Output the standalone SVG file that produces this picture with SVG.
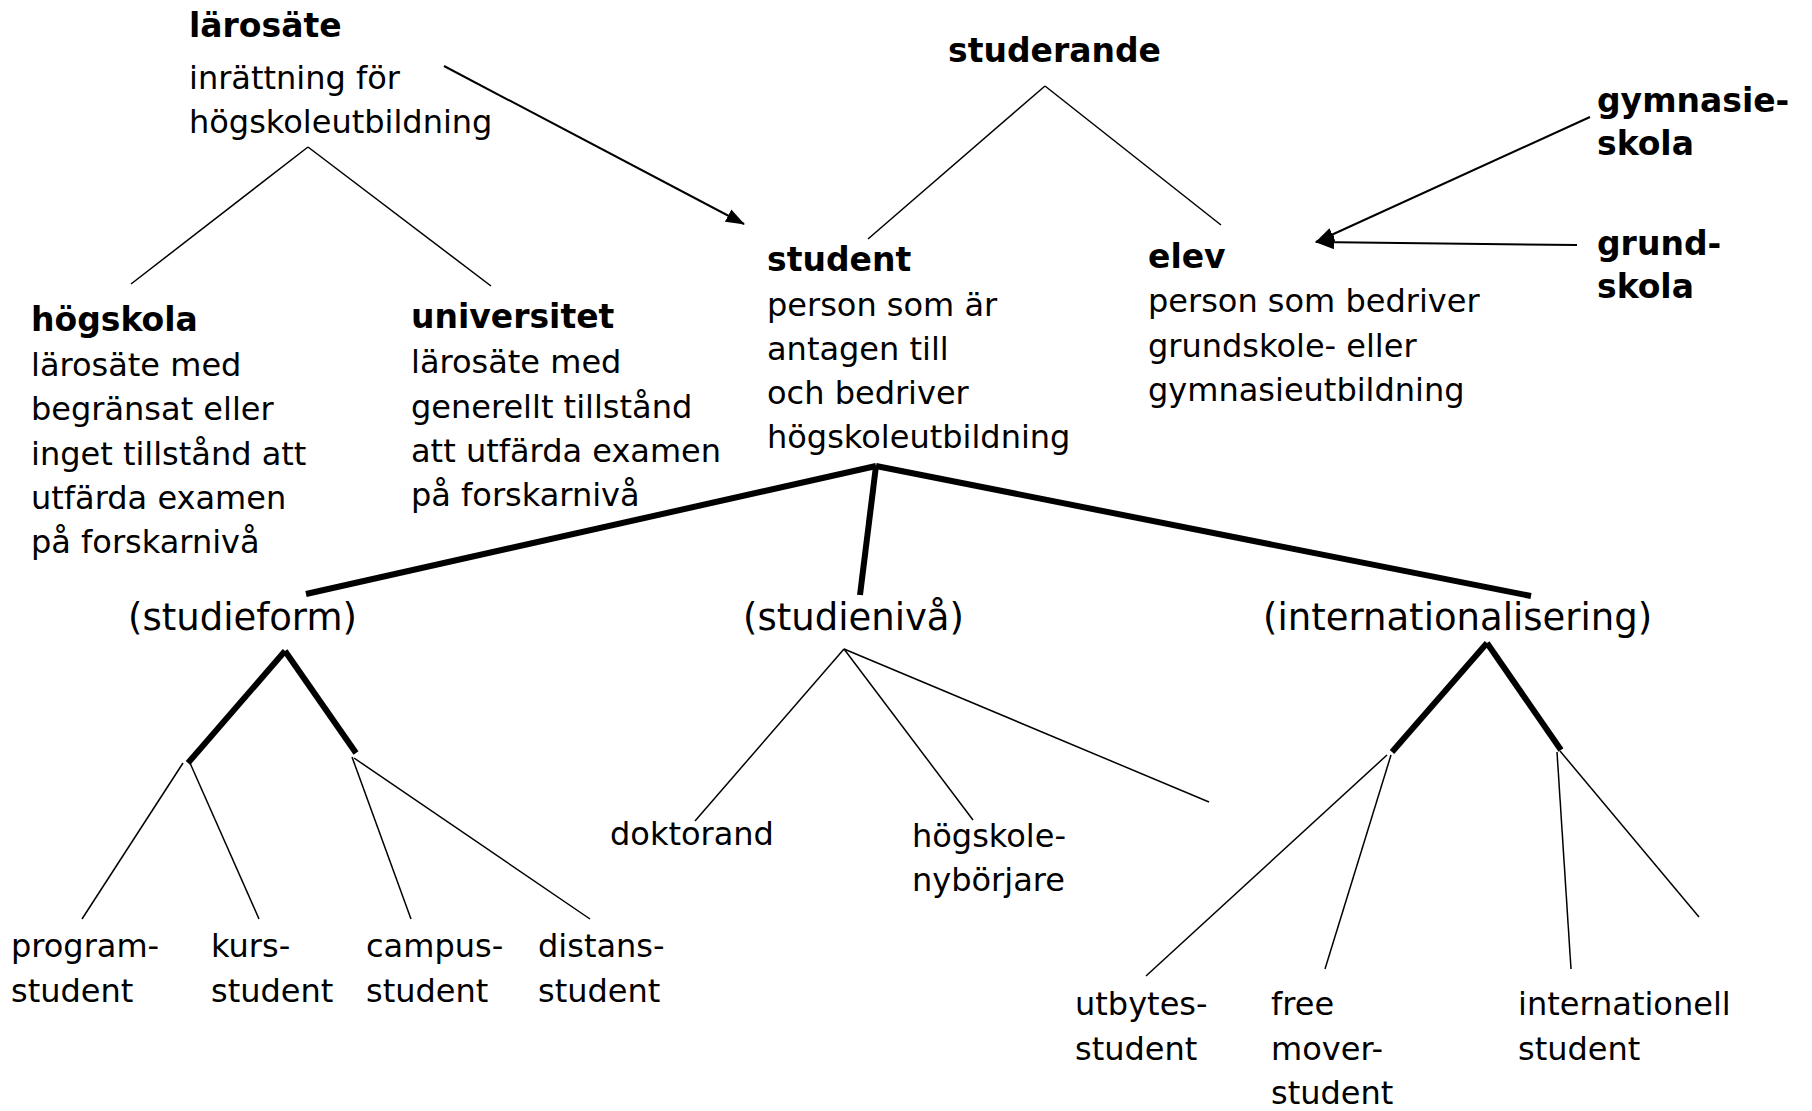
<svg xmlns="http://www.w3.org/2000/svg" width="1812" height="1111" viewBox="0 0 1812 1111">
<style>
text{font-family:"DejaVu Sans","Liberation Sans",sans-serif;font-size:32px;fill:#000}
.b{font-weight:bold;font-size:33px}
.p{font-size:37px}
.thin{stroke:#000;stroke-width:1.5;fill:none}
.arr{stroke:#000;stroke-width:2;fill:none;marker-end:url(#ah)}
.thick{stroke:#000;stroke-width:6;fill:none}
</style>
<defs>
<marker id="ah" markerUnits="userSpaceOnUse" markerWidth="20" markerHeight="14" refX="18" refY="7" orient="auto"><path d="M0,0 L19,7 L0,14 z" fill="#000"/></marker>
</defs>
<rect width="1812" height="1111" fill="#fff"/>
<g id="connectors">
<line class="thin" x1="308" y1="147" x2="131" y2="284"/>
<line class="thin" x1="308" y1="147" x2="491" y2="286"/>
<line class="thin" x1="1045" y1="86" x2="868" y2="239"/>
<line class="thin" x1="1045" y1="86" x2="1221" y2="225"/>
<line class="arr" x1="444" y1="66" x2="744" y2="224"/>
<line class="arr" x1="1590" y1="117" x2="1316" y2="242"/>
<line class="arr" x1="1577" y1="245" x2="1316" y2="242"/>
<line class="thick" x1="876" y1="466" x2="306" y2="594"/>
<line class="thick" x1="876" y1="466" x2="860" y2="595"/>
<line class="thick" x1="876" y1="466" x2="1531" y2="596"/>
<line class="thick" x1="285" y1="651" x2="188" y2="763"/>
<line class="thick" x1="285" y1="651" x2="356" y2="753"/>
<line class="thick" x1="1487" y1="643" x2="1392" y2="752"/>
<line class="thick" x1="1487" y1="643" x2="1561" y2="750"/>
<line class="thin" x1="183" y1="763" x2="82" y2="919"/>
<line class="thin" x1="190" y1="763" x2="259" y2="919"/>
<line class="thin" x1="352" y1="757" x2="411" y2="919"/>
<line class="thin" x1="354" y1="758" x2="590" y2="919"/>
<line class="thin" x1="844" y1="649" x2="695" y2="821"/>
<line class="thin" x1="844" y1="649" x2="973" y2="820"/>
<line class="thin" x1="844" y1="649" x2="1209" y2="802"/>
<line class="thin" x1="1387" y1="755" x2="1146" y2="976"/>
<line class="thin" x1="1391" y1="755" x2="1325" y2="969"/>
<line class="thin" x1="1557" y1="752" x2="1571" y2="969"/>
<line class="thin" x1="1560" y1="751" x2="1699" y2="917"/>
</g>
<g id="larosate"><text class="b" x="189" y="37">lärosäte</text><text x="189" y="89">inrättning för</text><text x="189" y="133">högskoleutbildning</text></g>
<g id="studerande"><text class="b" x="948" y="62">studerande</text></g>
<g id="gymnasieskola"><text class="b" x="1597" y="112">gymnasie-</text><text class="b" x="1597" y="155">skola</text></g>
<g id="grundskola"><text class="b" x="1597" y="255">grund-</text><text class="b" x="1597" y="298">skola</text></g>
<g id="student"><text class="b" x="767" y="271">student</text><text x="767" y="316">person som är</text><text x="767" y="360">antagen till</text><text x="767" y="404">och bedriver</text><text x="767" y="448">högskoleutbildning</text></g>
<g id="elev"><text class="b" x="1148" y="268">elev</text><text x="1148" y="312">person som bedriver</text><text x="1148" y="357">grundskole- eller</text><text x="1148" y="401">gymnasieutbildning</text></g>
<g id="hogskola"><text class="b" x="31" y="331">högskola</text><text x="31" y="376">lärosäte med</text><text x="31" y="420">begränsat eller</text><text x="31" y="465">inget tillstånd att</text><text x="31" y="509">utfärda examen</text><text x="31" y="553">på forskarnivå</text></g>
<g id="universitet"><text class="b" x="411" y="328">universitet</text><text x="411" y="373">lärosäte med</text><text x="411" y="418">generellt tillstånd</text><text x="411" y="462">att utfärda examen</text><text x="411" y="506">på forskarnivå</text></g>
<g id="studieform"><text class="p" x="128" y="630">(studieform)</text></g>
<g id="studieniva"><text class="p" x="743" y="630">(studienivå)</text></g>
<g id="internationalisering"><text class="p" x="1263" y="630">(internationalisering)</text></g>
<g id="programstudent"><text x="11" y="957">program-</text><text x="11" y="1002">student</text></g>
<g id="kursstudent"><text x="211" y="957">kurs-</text><text x="211" y="1002">student</text></g>
<g id="campusstudent"><text x="366" y="957">campus-</text><text x="366" y="1002">student</text></g>
<g id="distansstudent"><text x="538" y="957">distans-</text><text x="538" y="1002">student</text></g>
<g id="doktorand"><text x="610" y="845">doktorand</text></g>
<g id="hogskolenyborjare"><text x="912" y="847">högskole-</text><text x="912" y="891">nybörjare</text></g>
<g id="utbytesstudent"><text x="1075" y="1015">utbytes-</text><text x="1075" y="1060">student</text></g>
<g id="freemoverstudent"><text x="1271" y="1015">free</text><text x="1271" y="1060">mover-</text><text x="1271" y="1104">student</text></g>
<g id="internationellstudent"><text x="1518" y="1015">internationell</text><text x="1518" y="1060">student</text></g>
</svg>
